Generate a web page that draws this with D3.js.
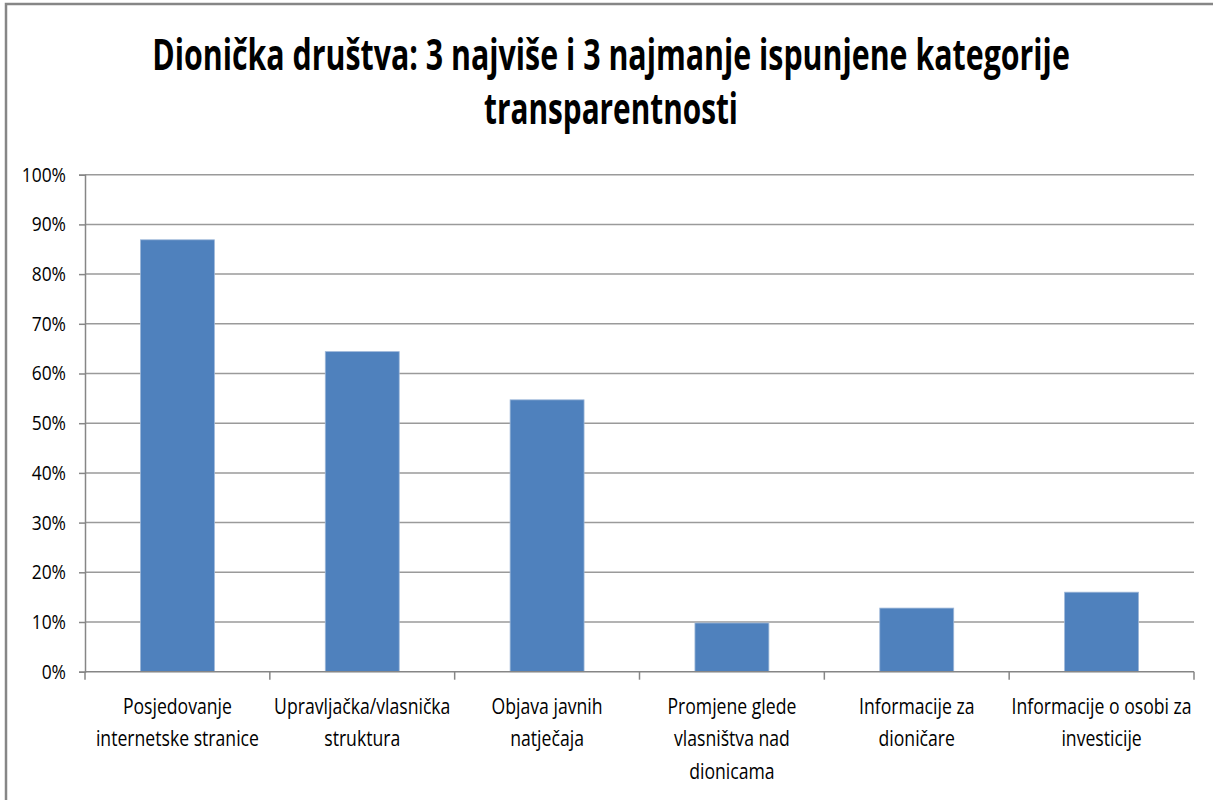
<!DOCTYPE html>
<html>
<head>
<meta charset="utf-8">
<script src="https://cdn.jsdelivr.net/npm/d3@7"></script>
<style>
body { margin: 0; background: #fff; }
text { font-family: "Open Sans", "DejaVu Sans", sans-serif; fill: #000; }
</style>
</head>
<body>
<svg id="chart" width="1213" height="800"></svg>
<script>
var titleLines = ["Dionička društva: 3 najviše i 3 najmanje ispunjene kategorije", "transparentnosti"];
var categories = [
	["Posjedovanje", "internetske stranice"],
	["Upravljačka/vlasnička", "struktura"],
	["Objava javnih", "natječaja"],
	["Promjene glede", "vlasništva nad", "dionicama"],
	["Informacije za", "dioničare"],
	["Informacije o osobi za", "investicije"]
];
var values = [0.869, 0.644, 0.547, 0.098, 0.128, 0.160];
var yTicks = [0, 0.1, 0.2, 0.3, 0.4, 0.5, 0.6, 0.7, 0.8, 0.9, 1.0];

var svg = d3.select("#chart");
var width = 1213, height = 800;
var plot = {left: 85, right: 1194, top: 174.7, bottom: 671.7};
var condense = 0.84; // the original font is narrower than Open Sans

// chart frame (only top and left edges are visible)
svg.append("path")
	.attr("d", "M6," + height + "V4H" + width)
	.attr("fill", "none")
	.attr("stroke", "#868686")
	.attr("stroke-width", 2.5);

// title, squeezed to the width of the original lines
var titleW = [918, 254];
svg.append("g").selectAll("text")
	.data(titleLines)
	.enter().append("text")
	.attr("text-anchor", "middle")
	.attr("font-size", 43)
	.attr("font-weight", "bold")
	.text(d => d)
	.attr("transform", function(d, i) {
		var k = titleW[i] / this.getComputedTextLength();
		return "translate(611," + (70 + i * 54) + ") scale(" + k + ",1)";
	});

var x = d3.scaleBand()
	.domain(d3.range(categories.length))
	.range([plot.left, plot.right])
	.paddingInner(0.6)
	.paddingOuter(0.3);

var y = d3.scaleLinear()
	.domain([0, 1])
	.range([plot.bottom, plot.top]);

// gridlines
svg.append("g").selectAll("line")
	.data(yTicks.slice(1))
	.enter().append("line")
	.attr("x1", plot.left)
	.attr("x2", plot.right)
	.attr("y1", d => y(d))
	.attr("y2", d => y(d))
	.attr("stroke", "#9a9a9a")
	.attr("stroke-width", 1.5);

// bars
svg.append("g").selectAll("rect")
	.data(values)
	.enter().append("rect")
	.attr("x", (d, i) => x(i))
	.attr("y", d => y(d))
	.attr("width", x.bandwidth())
	.attr("height", d => y(0) - y(d))
	.attr("fill", "#4f81bd")
	.attr("stroke", "#9db7d8")
	.attr("stroke-width", 0.8);

// y axis
var yAxis = svg.append("g")
	.attr("transform", "translate(" + plot.left + ",0)")
	.call(d3.axisLeft(y).tickValues(yTicks).tickFormat(d3.format(".0%")).tickSize(6));
yAxis.select(".domain").attr("stroke", "#868686").attr("stroke-width", 1.5);
yAxis.selectAll(".tick line").attr("stroke", "#868686").attr("stroke-width", 1.5);
yAxis.selectAll(".tick text")
	.attr("x", null)
	.attr("font-size", 20)
	.attr("font-family", "Open Sans, DejaVu Sans, sans-serif")
	.attr("fill", "#000")
	.attr("transform", "translate(-19,0) scale(0.87,1)");

// x axis line and category boundary ticks
var bounds = d3.range(categories.length + 1).map(i => plot.left + i * x.step());
svg.append("line")
	.attr("x1", plot.left).attr("x2", plot.right)
	.attr("y1", y(0)).attr("y2", y(0))
	.attr("stroke", "#868686").attr("stroke-width", 1.5);
svg.append("g").selectAll("line")
	.data(bounds)
	.enter().append("line")
	.attr("x1", d => d).attr("x2", d => d)
	.attr("y1", y(0)).attr("y2", y(0) + 8)
	.attr("stroke", "#868686").attr("stroke-width", 1.5);

// category labels
var labels = svg.append("g").selectAll("text")
	.data(categories)
	.enter().append("text")
	.attr("text-anchor", "middle")
	.attr("font-size", 21)
	.attr("transform", (d, i) => "translate(" + (x(i) + x.bandwidth() / 2) + ",0) scale(" + condense + ",1)");
labels.selectAll("tspan")
	.data(d => d)
	.enter().append("tspan")
	.attr("x", 0)
	.attr("y", (d, j) => 714 + j * 32.5)
	.text(d => d);
</script>
</body>
</html>
